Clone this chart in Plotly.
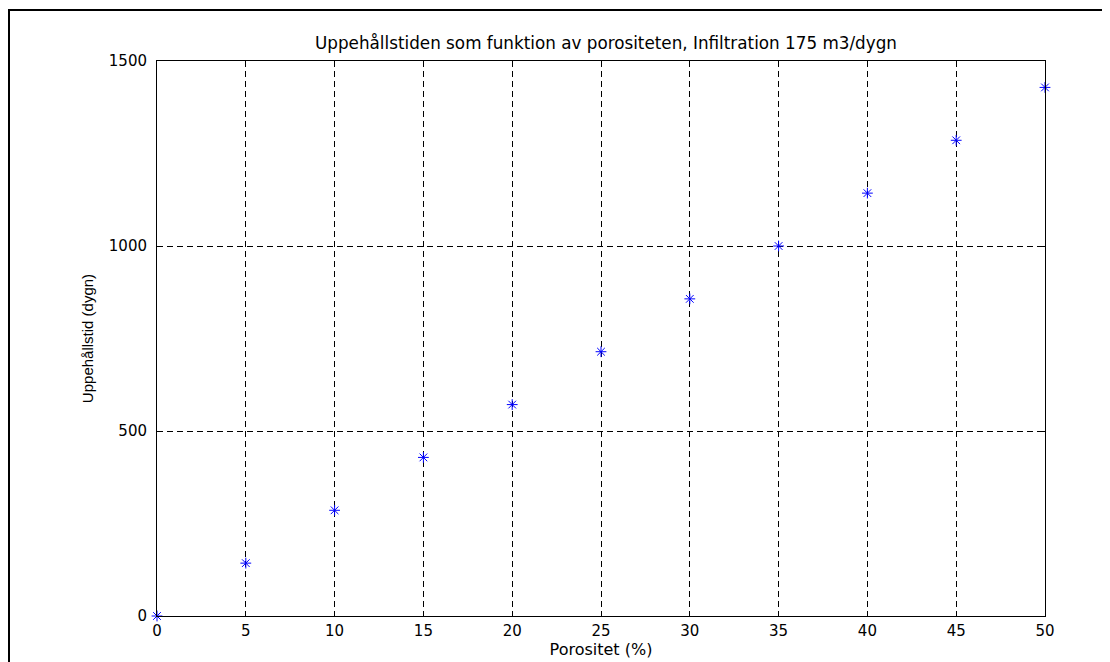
import plotly.graph_objects as go

porositet = [0, 5, 10, 15, 20, 25, 30, 35, 40, 45, 50]
uppehallstid = [0, 142.9, 285.7, 428.6, 571.4, 714.3, 857.1, 1000.0, 1142.9, 1285.7, 1428.6]
x_ticks = [0, 5, 10, 15, 20, 25, 30, 35, 40, 45, 50]
y_ticks = [0, 500, 1000, 1500]

W, H = 1110, 662
OFF = 8  # page body margin
L, R, T, B = 157 - OFF, 1045 - OFF, 61 - OFF, 616 - OFF

fig = go.Figure()
fig.add_trace(go.Scatter(
    x=porositet, y=uppehallstid, mode="markers",
    marker=dict(symbol="asterisk-open", size=9, color="#0000ff",
                line=dict(color="#0000ff", width=1)),
    cliponaxis=False, showlegend=False,
))

dv = "DejaVu Sans, Verdana, sans-serif"
tickfont = dict(family=dv, size=15, color="black")
axis_common = dict(
    showline=True, linecolor="black", linewidth=1, mirror="allticks",
    ticks="inside", ticklen=5, tickcolor="black", tickwidth=1,
    showgrid=True, gridcolor="black", gridwidth=1, griddash="6px,4px",
    zeroline=False, tickfont=tickfont,
)
fig.update_xaxes(range=[0, 50], tickvals=x_ticks, ticklabelstandoff=1,
                 title=dict(text="Porositet (%)", font=dict(family=dv, size=16, color="black"),
                            standoff=0), **axis_common)
fig.update_yaxes(range=[0, 1500], tickvals=y_ticks, ticklabelstandoff=6,
                 title=dict(text="Uppehållstid (dygn)",
                            font=dict(family="Liberation Sans, Arial, sans-serif", size=15, color="black"),
                            standoff=11), **axis_common)

pw, ph = R - L, B - T
fig.add_shape(type="rect", xref="paper", yref="paper",
              x0=(1 - L) / pw, x1=(1130 - L) / pw,
              y0=(B - 700) / ph, y1=(B - 2) / ph,
              line=dict(color="black", width=2), fillcolor="rgba(0,0,0,0)", layer="above")

fig.update_layout(
    width=W, height=H,
    margin=dict(l=L, r=W - R, t=T, b=H - B),
    paper_bgcolor="white", plot_bgcolor="white",
    title=dict(text="Uppehållstiden som funktion av porositeten, Infiltration 175 m3/dygn",
               x=(606 - OFF) / W, xanchor="center", y=1 - 29 / H, yanchor="top",
               font=dict(family=dv, size=16.8, color="black")),
)
fig.write_html("out.html")
